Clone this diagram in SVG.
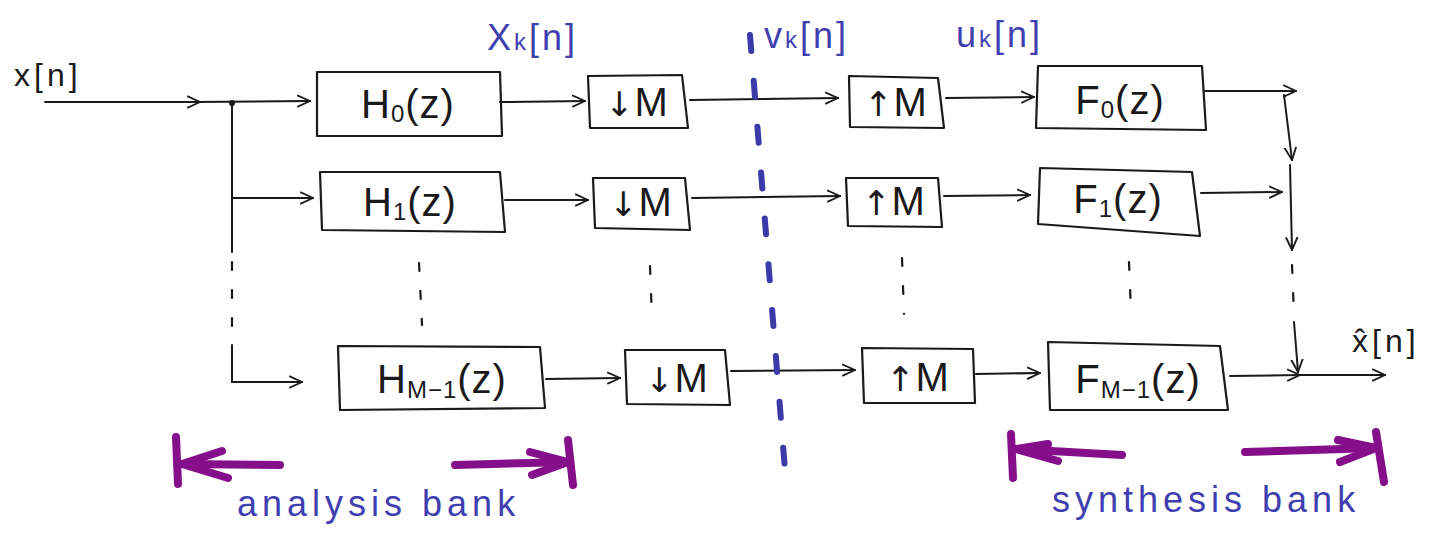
<svg xmlns="http://www.w3.org/2000/svg" width="1448" height="542" viewBox="0 0 1448 542">
<style>
.box{fill:none;stroke:#1a1a1a;stroke-width:2.2;stroke-linejoin:round}
.ln{fill:none;stroke:#1a1a1a;stroke-width:2;stroke-linecap:round}
.dot{fill:none;stroke:#1a1a1a;stroke-width:2.2;stroke-linecap:round;stroke-dasharray:8 20}
.t{font-family:"Liberation Sans",Arial,sans-serif;font-size:40px;fill:#1a1a1a;text-anchor:middle;letter-spacing:1px}
.sub{font-size:24px}
.ar{font-family:"DejaVu Sans",sans-serif;font-size:34px}
.bl{font-family:"Liberation Sans",Arial,sans-serif;font-size:36px;fill:#3f3fb0;letter-spacing:3px}
.bk{font-family:"Liberation Sans",Arial,sans-serif;font-size:32px;fill:#1a1a1a;letter-spacing:4px}
.cap{font-family:"Liberation Sans",Arial,sans-serif;font-size:36px;fill:#3f3fb0;letter-spacing:5px}
.pu{fill:none;stroke:#850f8a;stroke-width:8;stroke-linecap:round;stroke-linejoin:round}
.split{fill:none;stroke:#3a3aa8;stroke-width:6;stroke-linecap:round;stroke-dasharray:16 30}
</style>
<defs>
<marker id="ah" viewBox="0 0 12 12" refX="11" refY="6" markerWidth="14" markerHeight="14" markerUnits="userSpaceOnUse" orient="auto">
<path d="M0,1 L11,6 L0,11" fill="none" stroke="#1a1a1a" stroke-width="1.6"/>
</marker>
</defs>

<g id="connectors">
<line class="ln" x1="45" y1="102" x2="200" y2="102" marker-end="url(#ah)"/>
<line class="ln" x1="195" y1="102" x2="310" y2="101" marker-end="url(#ah)"/>
<circle cx="232" cy="103" r="3" fill="#1a1a1a"/>
<line class="ln" x1="232" y1="103" x2="232" y2="252"/>
<line class="dot" x1="232" y1="262" x2="232" y2="345"/>
<polyline class="ln" points="232,345 232,382 302,382" marker-end="url(#ah)"/>
<line class="ln" x1="232" y1="198" x2="313" y2="198" marker-end="url(#ah)"/>
<line class="ln" x1="500" y1="102" x2="585" y2="101" marker-end="url(#ah)"/>
<line class="ln" x1="690" y1="100" x2="838" y2="98" marker-end="url(#ah)"/>
<line class="ln" x1="946" y1="98" x2="1034" y2="97" marker-end="url(#ah)"/>
<line class="ln" x1="1205" y1="91" x2="1296" y2="91" marker-end="url(#ah)"/>
<line class="ln" x1="1284" y1="95" x2="1292" y2="160" marker-end="url(#ah)"/>
<line class="ln" x1="505" y1="200" x2="588" y2="200" marker-end="url(#ah)"/>
<line class="ln" x1="692" y1="198" x2="840" y2="196" marker-end="url(#ah)"/>
<line class="ln" x1="944" y1="196" x2="1030" y2="195" marker-end="url(#ah)"/>
<line class="ln" x1="1201" y1="193" x2="1282" y2="192" marker-end="url(#ah)"/>
<line class="ln" x1="1290" y1="165" x2="1292" y2="250" marker-end="url(#ah)"/>
<line class="dot" x1="1292" y1="265" x2="1294" y2="315"/>
<line class="ln" x1="1294" y1="322" x2="1298" y2="372" marker-end="url(#ah)"/>
<line class="ln" x1="546" y1="379" x2="620" y2="378" marker-end="url(#ah)"/>
<line class="ln" x1="731" y1="371" x2="855" y2="370" marker-end="url(#ah)"/>
<line class="ln" x1="976" y1="374" x2="1040" y2="373" marker-end="url(#ah)"/>
<line class="ln" x1="1230" y1="376" x2="1300" y2="375" marker-end="url(#ah)"/>
<line class="ln" x1="1298" y1="375" x2="1385" y2="375" marker-end="url(#ah)"/>
<line class="dot" x1="419" y1="263" x2="422" y2="325"/>
<line class="dot" x1="650" y1="266" x2="652" y2="318"/>
<line class="dot" x1="902" y1="258" x2="904" y2="314"/>
<line class="dot" x1="1129" y1="262" x2="1131" y2="312"/>
<line class="split" x1="750" y1="35" x2="785" y2="470"/>
</g>

<g id="x_in"><text class="bk" x="14" y="86">x[n]</text></g>
<g id="x_out"><text class="bk" x="1352" y="352">x̂[n]</text></g>
<g id="lbl_xk"><text class="bl" x="487" y="50">X<tspan font-size="24">k</tspan>[n]</text></g>
<g id="lbl_vk"><text class="bl" x="764" y="48">v<tspan font-size="24">k</tspan>[n]</text></g>
<g id="lbl_uk"><text class="bl" x="956" y="47">u<tspan font-size="24">k</tspan>[n]</text></g>

<g id="H0">
<path class="box" d="M317,72 L500,72 L502,136 L317,136 Z"/>
<text class="t" x="408" y="118">H<tspan class="sub" dy="4">0</tspan><tspan dy="-4">(z)</tspan></text>
</g>
<g id="H1">
<path class="box" d="M320,172 L500,172 L505,232 L322,230 Z"/>
<text class="t" x="410" y="216">H<tspan class="sub" dy="4">1</tspan><tspan dy="-4">(z)</tspan></text>
</g>
<g id="HM1">
<path class="box" d="M338,346 L540,347 L545,408 L340,410 Z"/>
<text class="t" x="442" y="393">H<tspan class="sub" dy="5">M−1</tspan><tspan dy="-5">(z)</tspan></text>
</g>

<g id="D0">
<path class="box" d="M588,76 L682,75 L688,128 L590,128 Z"/>
<text class="t" x="637" y="116"><tspan class="ar">↓</tspan>M</text>
</g>
<g id="D1">
<path class="box" d="M593,178 L685,178 L690,230 L595,228 Z"/>
<text class="t" x="641" y="216"><tspan class="ar">↓</tspan>M</text>
</g>
<g id="DM1">
<path class="box" d="M625,350 L725,350 L730,405 L627,404 Z"/>
<text class="t" x="677" y="392"><tspan class="ar">↓</tspan>M</text>
</g>

<g id="U0">
<path class="box" d="M849,76 L938,78 L944,128 L850,127 Z"/>
<text class="t" x="896" y="116"><tspan class="ar">↑</tspan>M</text>
</g>
<g id="U1">
<path class="box" d="M846,178 L938,178 L942,227 L848,226 Z"/>
<text class="t" x="894" y="215"><tspan class="ar">↑</tspan>M</text>
</g>
<g id="UM1">
<path class="box" d="M862,348 L973,349 L975,403 L864,403 Z"/>
<text class="t" x="918" y="391"><tspan class="ar">↑</tspan>M</text>
</g>

<g id="F0">
<path class="box" d="M1038,66 L1202,66 L1206,130 L1036,128 Z"/>
<text class="t" x="1120" y="114">F<tspan class="sub" dy="4">0</tspan><tspan dy="-4">(z)</tspan></text>
</g>
<g id="F1">
<path class="box" d="M1040,168 L1192,172 L1200,236 L1038,224 Z"/>
<text class="t" x="1118" y="213">F<tspan class="sub" dy="4">1</tspan><tspan dy="-4">(z)</tspan></text>
</g>
<g id="FM1">
<path class="box" d="M1048,342 L1220,346 L1228,410 L1050,410 Z"/>
<text class="t" x="1138" y="393">F<tspan class="sub" dy="5">M−1</tspan><tspan dy="-5">(z)</tspan></text>
</g>

<g id="analysis_bank">
<line class="pu" x1="176" y1="437" x2="178" y2="484"/>
<polyline class="pu" points="280,465 180,464"/>
<polyline class="pu" points="222,451 182,464 228,478"/>
<polyline class="pu" points="455,465 568,462"/>
<polyline class="pu" points="530,452 568,462 532,475"/>
<line class="pu" x1="568" y1="440" x2="573" y2="485"/>
<text class="cap" x="237" y="516">analysis bank</text>
</g>
<g id="synthesis_bank">
<line class="pu" x1="1011" y1="434" x2="1013" y2="478"/>
<polyline class="pu" points="1122,455 1016,449"/>
<polyline class="pu" points="1048,444 1016,449 1058,461"/>
<polyline class="pu" points="1245,452 1376,448"/>
<polyline class="pu" points="1338,440 1376,448 1340,462"/>
<line class="pu" x1="1376" y1="432" x2="1384" y2="482"/>
<text class="cap" x="1052" y="512">synthesis bank</text>
</g>
</svg>
